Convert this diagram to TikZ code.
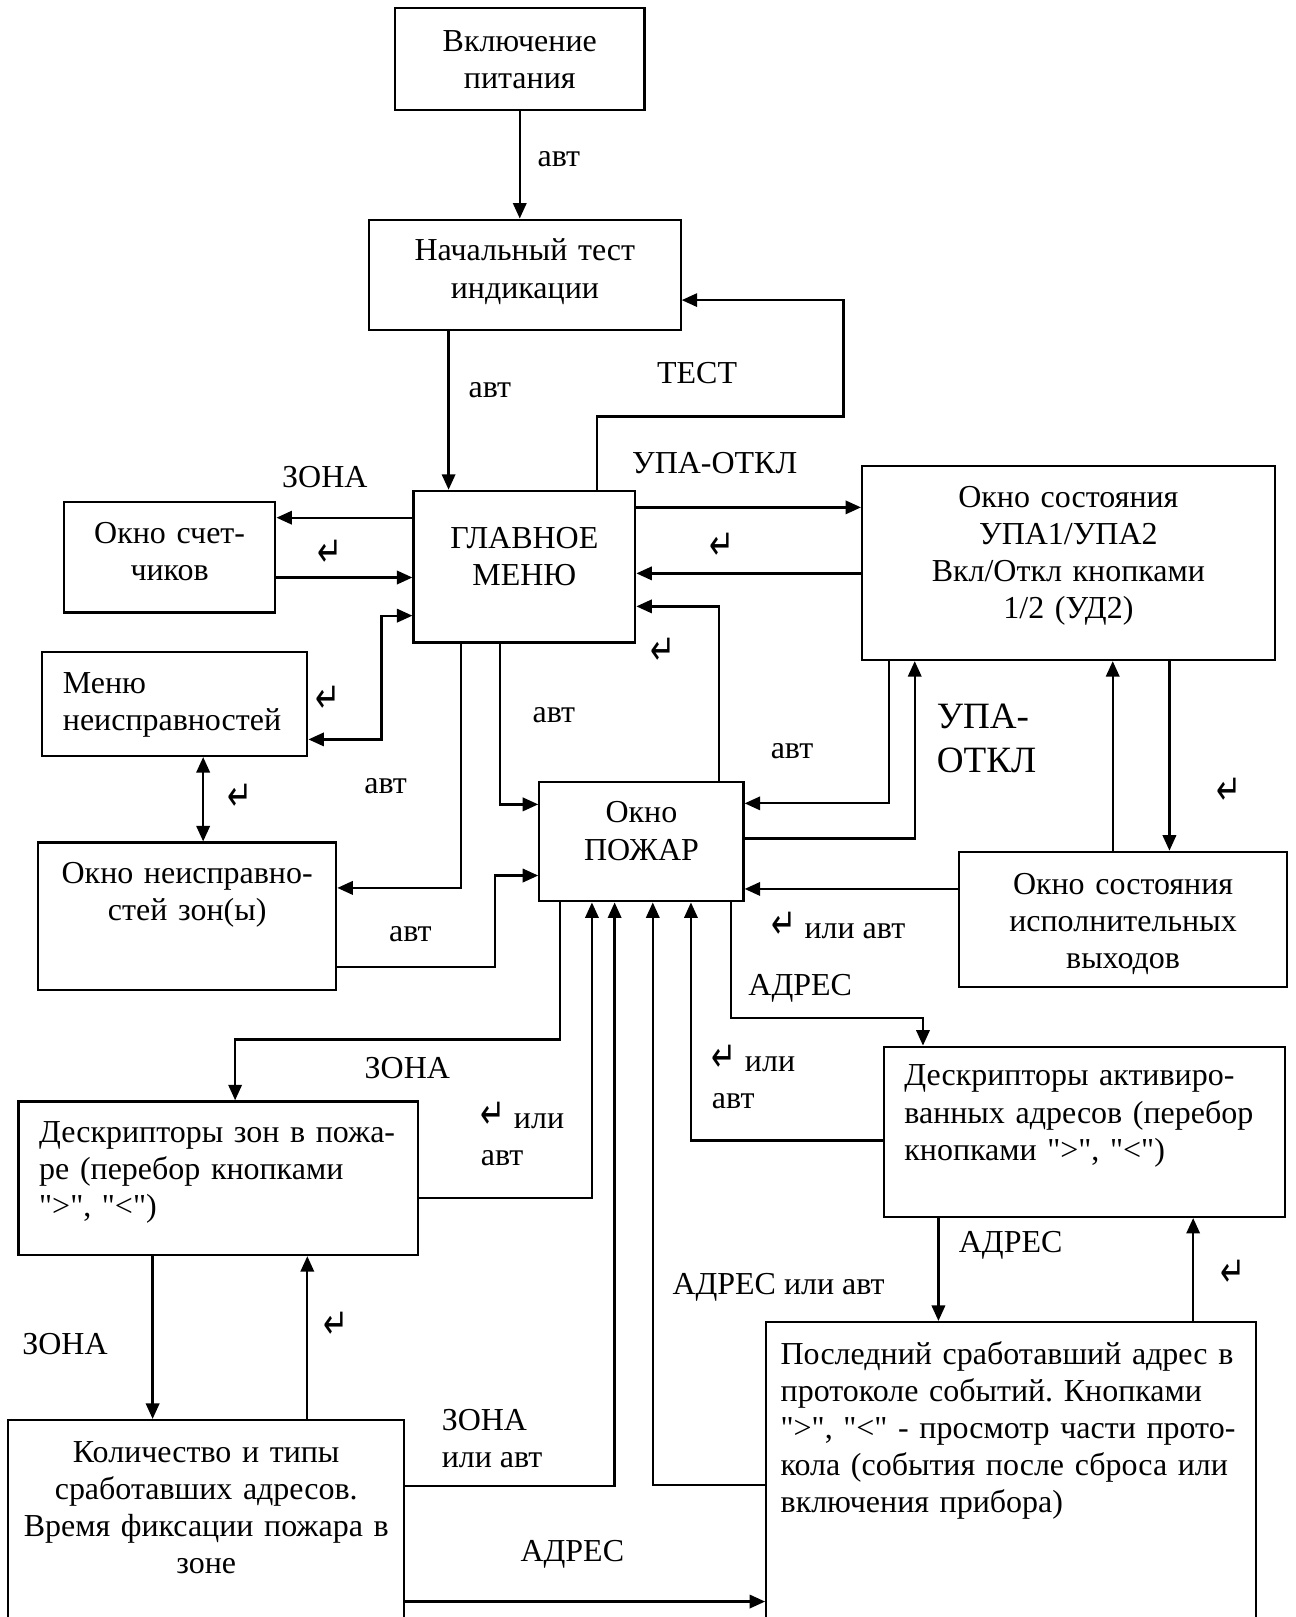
\documentclass[tikz,border=0pt]{standalone}
\usepackage{fontspec}
\setmainfont{Liberation Serif}
\newfontfamily\symfont{DejaVu Sans}
\usetikzlibrary{arrows.meta}
\newcommand{\ret}{\scalebox{0.85}[1.2]{\symfont\fontsize{17pt}{17pt}\selectfont ↵}}
\newcommand{\qq}{\textquotedbl}
\tikzstyle{box} = [rectangle, draw=black, line width=1.1pt, inner ysep=0pt, inner xsep=5pt, align=center, font=\fontsize{15.5pt}{18pt}\selectfont\frenchspacing]
\tikzstyle{lbox} = [box, align=left, inner xsep=10pt]
\tikzstyle{lbl} = [inner sep=0pt, font=\fontsize{15.5pt}{18pt}\selectfont]
\tikzstyle{arrow} = [line width=1.1pt, -{Triangle[length=7.5pt, width=6.5pt]}]
\tikzstyle{twoway} = [line width=1.1pt, {Triangle[length=7.5pt, width=6.5pt]}-{Triangle[length=7.5pt, width=6.5pt]}]

\begin{document}
\begin{tikzpicture}[x=0.5pt, y=-0.5pt]
\clip (0,0) rectangle (1256,1568);

% Windows
\node (power) [box, minimum width=121pt, text width=111pt, text height=21pt, text depth=28.5pt] at (504,57.5) {Включение\\питания};
\node (test) [box, minimum width=151pt, text width=141pt, text height=20pt, text depth=33.5pt] at (509,266.5) {Начальный тест\\индикации};
\node (glav) [box, minimum width=107.5pt, text width=97.5pt, text height=28pt, text depth=45.5pt] at (508.5,549.5) {ГЛАВНОЕ\\МЕНЮ};
\node (schet) [box, minimum width=102.5pt, text width=92.5pt, text height=20pt, text depth=33.5pt] at (164.5,540.5) {Окно счет-\\чиков};
\node (menu) [lbox, minimum width=128.5pt, text width=108.5pt, text height=20pt, text depth=30.5pt] at (169.5,682.5) {Меню\\неисправностей};
\node (neispr) [box, minimum width=144.5pt, text width=134.5pt, text height=20pt, text depth=51.5pt] at (181.5,888.5) {Окно неисправно-\\стей зон(ы)};
\node (pozhar) [box, minimum width=99pt, text width=89pt, text height=20pt, text depth=38pt] at (622,816) {Окно\\ПОЖАР};
\node (upa) [box, minimum width=200pt, text width=190pt, text height=20pt, text depth=74pt] at (1036,546) {Окно состояния\\УПА1/УПА2\\Вкл/Откл кнопками\\1/2 (УД2)};
\node (ispoln) [box, minimum width=159pt, text width=149pt, text height=20.5pt, text depth=45pt] at (1089,891.5) {Окно состояния\\исполнительных\\выходов};
\node (descact) [lbox, minimum width=194.5pt, text width=174.5pt, text height=19pt, text depth=63.5pt] at (1051.5,1097.5) {Дескрипторы активиро-\\ванных адресов (перебор\\кнопками \qq\textgreater\qq, \qq\textless\qq)};
\node (desczon) [lbox, minimum width=193.5pt, text width=173.5pt, text height=20pt, text depth=54.5pt] at (211.5,1142.5) {Дескрипторы зон в пожа-\\ре (перебор кнопками\\\qq\textgreater\qq, \qq\textless\qq)};
\node (kolich) [box, inner xsep=4pt, minimum width=192pt, text width=184pt, text height=20.5pt, text depth=116pt] at (200,1513.5) {Количество и типы\\сработавших адресов.\\Время фиксации пожара в\\зоне};
\node (posled) [lbox, inner xsep=7pt, minimum width=237.5pt, text width=223.5pt, text height=20.5pt, text depth=163.5pt] at (980.5,1466) {Последний сработавший адрес в\\протоколе событий. Кнопками\\\qq\textgreater\qq, \qq\textless\qq{} - просмотр части прото-\\кола (события после сброса или\\включения прибора)};

% Transitions
\draw [arrow] (power.south) -- (power.south |- test.north);
\draw [arrow] (test.south -| 435,0) -- (glav.north -| 435,0);
\draw [arrow] (glav.north -| 579,0) |- (818,404) |- (test.east |- 0,291);
\draw [arrow] (glav.east |- 0,492) -- (upa.west |- 0,492);
\draw [arrow] (upa.west |- 0,556) -- (glav.east |- 0,556);
\draw [arrow] (pozhar.north -| 697,0) |- (glav.east |- 0,588);
\draw [arrow] (glav.west |- 0,502) -- (schet.east |- 0,502);
\draw [arrow] (schet.east |- 0,560) -- (glav.west |- 0,560);
\draw [twoway] (glav.west |- 0,597) -| (370,650) |- (menu.east |- 0,717);
\draw [twoway] (menu.south -| 197,0) -- (neispr.north -| 197,0);
\draw [arrow] (glav.south -| 447,0) |- (neispr.east |- 0,861);
\draw [arrow] (glav.south -| 485,0) |- (pozhar.west |- 0,780);
\draw [arrow] (neispr.east |- 0,938) -| (480,900) |- (pozhar.west |- 0,849);
\draw [arrow] (upa.south -| 862,0) |- (pozhar.east |- 0,779);
\draw [arrow] (pozhar.east |- 0,813) -| (upa.south -| 887,0);
\draw [arrow] (upa.south -| 1134,0) -- (ispoln.north -| 1134,0);
\draw [arrow] (ispoln.north -| 1079,0) -- (upa.south -| 1079,0);
\draw [arrow] (ispoln.west |- 0,862) -- (pozhar.east |- 0,862);
\draw [arrow] (pozhar.south -| 709,0) |- (895,987) -- (descact.north -| 895,0);
\draw [arrow] (descact.west |- 0,1106) -| (pozhar.south -| 670,0);
\draw [arrow] (descact.south -| 910,0) -- (posled.north -| 910,0);
\draw [arrow] (posled.north -| 1157,0) -- (descact.south -| 1157,0);
\draw [arrow] (posled.west |- 0,1440) -| (pozhar.south -| 633,0);
\draw [arrow] (pozhar.south -| 543,0) |- (228,1008) -- (desczon.north -| 228,0);
\draw [arrow] (desczon.east |- 0,1162) -| (pozhar.south -| 574,0);
\draw [arrow] (desczon.south -| 148,0) -- (kolich.north -| 148,0);
\draw [arrow] (kolich.north -| 298,0) -- (desczon.south -| 298,0);
\draw [arrow] (kolich.east |- 0,1441) -| (pozhar.south -| 596,0);
\draw [arrow] (kolich.east |- 0,1553) -- (posled.west |- 0,1553);

% Labels
\node (avt1) [lbl] at (542,154) {авт};
\node (avt2) [lbl] at (475,378) {авт};
\node (testlbl) [lbl] at (676,362) {ТЕСТ};
\node (upaoff1) [lbl] at (693,449) {УПА-ОТКЛ};
\node (zona1) [lbl] at (315,463) {ЗОНА};
\node (ret1) [lbl] at (700,530) {\ret};
\node (ret2) [lbl] at (320,537) {\ret};
\node (ret3) [lbl] at (643,632) {\ret};
\node (ret4) [lbl] at (318,678) {\ret};
\node (avt3) [lbl] at (537,693) {авт};
\node (avt4) [lbl] at (768,728) {авт};
\node (upaoff2) [lbl, anchor=west, align=left, font=\fontsize{18pt}{21pt}\selectfont] at (908,716) {УПА-\\ОТКЛ};
\node (avt5) [lbl] at (374,762) {авт};
\node (ret5) [lbl] at (233,773) {\ret};
\node (ret6) [lbl] at (1192,767) {\ret};
\node (retavt1) [lbl] at (813,897) {\ret{} или авт};
\node (avt6) [lbl] at (398,906) {авт};
\node (adr1) [lbl] at (776,958) {АДРЕС};
\node (zona2) [lbl] at (395,1036) {ЗОНА};
\node (retavt2) [lbl, anchor=west, align=left] at (690,1044) {\ret{} или\\авт};
\node (retavt3) [lbl, anchor=west, align=left] at (466,1100) {\ret{} или\\авт};
\node (adr2) [lbl] at (980,1208) {АДРЕС};
\node (ret7) [lbl] at (1196,1235) {\ret};
\node (adravt) [lbl] at (755,1248) {АДРЕС или авт};
\node (zona3) [lbl] at (63,1303) {ЗОНА};
\node (ret8) [lbl] at (326,1285) {\ret};
\node (zonaavt) [lbl, anchor=west, align=left] at (428,1395) {ЗОНА\\или авт};
\node (adr3) [lbl] at (555,1507) {АДРЕС};

\end{tikzpicture}
\end{document}
